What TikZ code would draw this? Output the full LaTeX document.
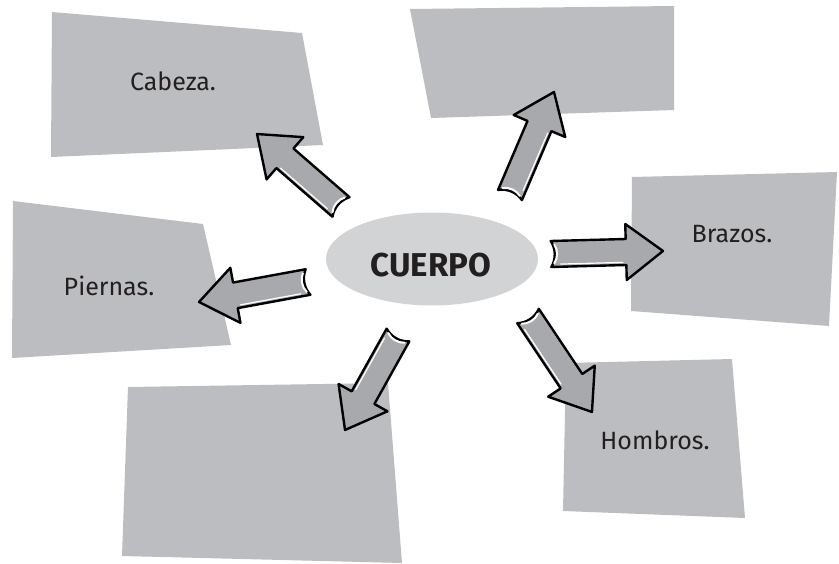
\documentclass[tikz,border=0pt]{standalone}
\usepackage{fontspec}
\setmainfont{Fira Sans}
\usetikzlibrary{shapes.geometric}
\definecolor{boxgray}{HTML}{BCBDC0}
\definecolor{ellgray}{HTML}{D1D3D4}
\definecolor{arrgray}{HTML}{A7A9AC}
\definecolor{inkc}{HTML}{231F20}
\tikzset{
  paperbox/.style={fill=boxgray},
  label/.style={anchor=base, inner sep=0pt, text=inkc, font=\fontsize{25}{30}\selectfont},
  arrowbody/.style={fill=arrgray, draw=black, line width=2.4pt, line join=round},
}
\newcommand\blockarr[3]{%
  \pgfpointdiff{\pgfpointanchor{#1}{center}}{\pgfpointanchor{#2}{center}}%
  \pgfgetlastxy\bdx\bdy
  \pgfmathsetmacro\bang{atan2(\bdy,\bdx)}%
  \pgfmathsetmacro\blen{veclen(\bdx,\bdy)}%
  \pgfmathsetmacro\bneck{\blen-37}%
  \begin{scope}[shift={(#1)}, rotate=\bang, x=1pt, y=#3pt]
    \filldraw[arrowbody] (0,-13) -- (\bneck,-13) -- (\bneck,-28) -- (\blen,0)
      -- (\bneck,28) -- (\bneck,13) -- (0,13) .. controls (5,5) and (5,-5) .. cycle;
    \draw[white, line width=1.2pt] (9,-10.3) -- (\bneck-3,-10.3);
    \draw[white, line width=2pt, line cap=round] (3,-9.5) .. controls (7,-4) and (7,4) .. (3.5,9.5);
  \end{scope}}
\begin{document}
\begin{tikzpicture}[x=1pt, y=-1pt]
\useasboundingbox (0,0) rectangle (839,563);
% boxes
\fill[paperbox] (52,12) -- (302,33) -- (323,145) -- (51,157) -- cycle;
\fill[paperbox] (410,9) -- (674,6) -- (674,110) -- (431,118) -- cycle;
\fill[paperbox] (632,177) -- (837,172) -- (829,326) -- (631,311) -- cycle;
\fill[paperbox] (13,201) -- (203,224) -- (231,345) -- (12,358) -- cycle;
\fill[paperbox] (128,387) -- (388,383) -- (402,563) -- (122,556) -- cycle;
\fill[paperbox] (566,363) -- (732,359) -- (745,518) -- (563,511) -- cycle;
% labels
\node[label] (cab) at (173,90) {Cabeza.};
\node[label] (pie) at (109,295) {Piernas.};
\node[label] (bra) at (732,242) {Brazos.};
\node[label] (hom) at (655,449) {Hombros.};
% centre
\node[ellipse, fill=ellgray, minimum width=212pt, minimum height=93pt, inner sep=0pt] (c) at (432,259) {};
\node[inner sep=0pt, text=inkc, font=\fontsize{33}{36}\selectfont\bfseries] (ct) at (431,265) {CUERPO};
% arrow ends
\coordinate (t1) at (341,207); \coordinate (h1) at (257,134);
\coordinate (t2) at (510,195); \coordinate (h2) at (554,92);
\coordinate (t3) at (551,254); \coordinate (h3) at (663,251);
\coordinate (t4) at (308,282); \coordinate (h4) at (199,302);
\coordinate (t5) at (398,335); \coordinate (h5) at (345,430);
\coordinate (t6) at (528,316); \coordinate (h6) at (592,412);
\blockarr{t1}{h1}{-1}
\blockarr{t2}{h2}{1}
\blockarr{t3}{h3}{1}
\blockarr{t4}{h4}{-1}
\blockarr{t5}{h5}{1}
\blockarr{t6}{h6}{1}
\end{tikzpicture}
\end{document}
